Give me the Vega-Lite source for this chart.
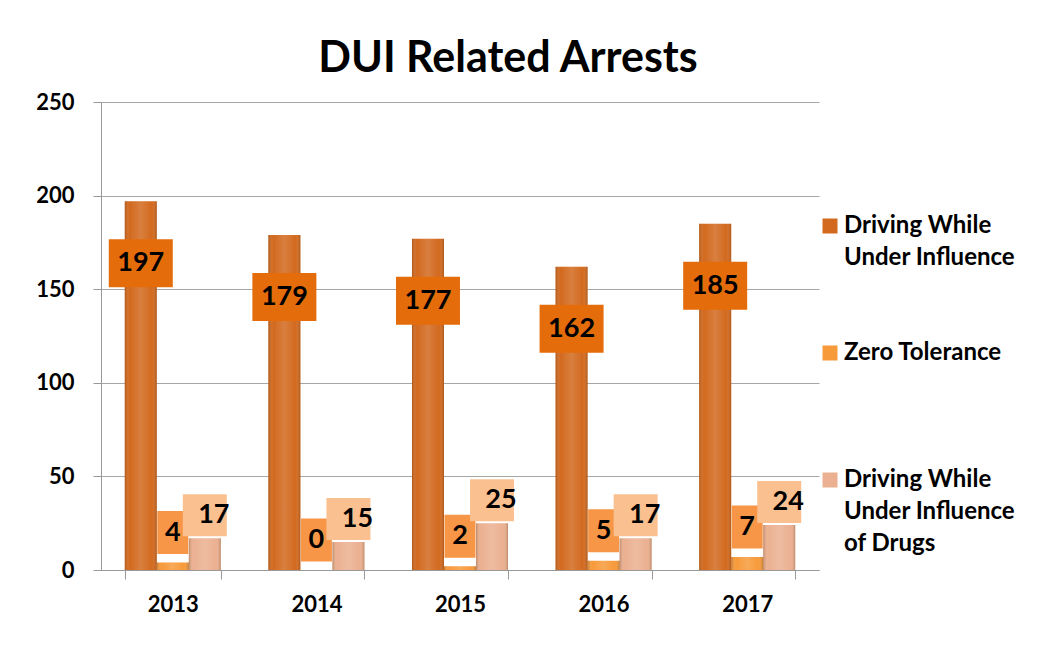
{
  "$schema": "https://vega.github.io/schema/vega-lite/v6.json",
  "width": 718,
  "height": 468,
  "autosize": "none",
  "padding": {"left": 101, "top": 102, "right": 220, "bottom": 86},
  "background": "white",
  "config": {
    "view": {"stroke": null},
    "font": "Lato"
  },
  "title": {
    "text": "DUI Related Arrests",
    "font": "Lato",
    "fontSize": 43,
    "fontWeight": "bold",
    "color": "black",
    "anchor": "middle",
    "dx": 48,
    "offset": 10
  },
  "data": {
    "values": [
      {"year": "2013", "series": "Driving While Under Influence", "value": 197},
      {"year": "2013", "series": "Zero Tolerance", "value": 4},
      {"year": "2013", "series": "Driving While Under Influence of Drugs", "value": 17},
      {"year": "2014", "series": "Driving While Under Influence", "value": 179},
      {"year": "2014", "series": "Zero Tolerance", "value": 0},
      {"year": "2014", "series": "Driving While Under Influence of Drugs", "value": 15},
      {"year": "2015", "series": "Driving While Under Influence", "value": 177},
      {"year": "2015", "series": "Zero Tolerance", "value": 2},
      {"year": "2015", "series": "Driving While Under Influence of Drugs", "value": 25},
      {"year": "2016", "series": "Driving While Under Influence", "value": 162},
      {"year": "2016", "series": "Zero Tolerance", "value": 5},
      {"year": "2016", "series": "Driving While Under Influence of Drugs", "value": 17},
      {"year": "2017", "series": "Driving While Under Influence", "value": 185},
      {"year": "2017", "series": "Zero Tolerance", "value": 7},
      {"year": "2017", "series": "Driving While Under Influence of Drugs", "value": 24}
    ]
  },
  "encoding": {
    "x": {
      "field": "year", "type": "nominal",
      "scale": {"paddingInner": 0.331, "paddingOuter": 0.1655},
      "axis": {
        "title": null, "labelAngle": 0, "labelFont": "Lato", "labelFontSize": 22,
        "labelFontWeight": "bold", "labelColor": "black", "tickBand": "extent",
        "tickSize": 9, "tickColor": "#999999", "domainColor": "#999999",
        "labelPadding": 15
      }
    },
    "xOffset": {
      "field": "series", "type": "nominal",
      "scale": {"domain": ["Driving While Under Influence", "Zero Tolerance", "Driving While Under Influence of Drugs"], "paddingInner": 0, "paddingOuter": 0}
    },
    "y": {
      "field": "value", "type": "quantitative",
      "scale": {"domain": [0, 250], "nice": false},
      "axis": {
        "title": null, "values": [0, 50, 100, 150, 200, 250], "labelFont": "Lato",
        "labelFontSize": 22, "labelFontWeight": "bold", "labelColor": "black",
        "tickSize": 8, "tickColor": "#999999", "domainColor": "#999999",
        "gridColor": "#a6a6a6", "labelPadding": 19
      }
    }
  },
  "layer": [
    {
      "mark": {"type": "bar"},
      "encoding": {
        "color": {
          "field": "series", "type": "nominal",
          "scale": {
            "domain": ["Driving While Under Influence", "Zero Tolerance", "Driving While Under Influence of Drugs"],
            "range": ["#d2691e", "#f79a3a", "#ebb091"]
          },
          "legend": {
            "title": null, "orient": "none", "legendX": 717, "legendY": 112,
            "symbolType": "square", "symbolSize": 225, "symbolStrokeWidth": 0,
            "labelFont": "Lato", "labelFontSize": 24, "labelFontWeight": "bold",
            "labelColor": "black", "labelLimit": 400, "labelOffset": 2,
            "labelExpr": "datum.value == 'Zero Tolerance' ? ['Zero Tolerance', ' '] : datum.value == 'Driving While Under Influence' ? ['Driving While', 'Under Influence'] : ['Driving While', 'Under Influence', 'of Drugs']",
            "rowPadding": 71,
            "encode": {"labels": {"update": {"lineHeight": {"value": 32}}}}
          }
        }
      }
    },
    {
      "mark": {
        "type": "bar",
        "color": {
          "gradient": "linear", "x1": 0, "x2": 1, "y1": 0, "y2": 0,
          "stops": [
            {"offset": 0, "color": "rgba(90,40,0,0.30)"},
            {"offset": 0.15, "color": "rgba(255,255,255,0.0)"},
            {"offset": 0.5, "color": "rgba(255,255,255,0.15)"},
            {"offset": 0.85, "color": "rgba(255,255,255,0.0)"},
            {"offset": 1, "color": "rgba(90,40,0,0.30)"}
          ]
        }
      },
      "encoding": {}
    },
    {
      "transform": [{"filter": "datum.series == 'Driving While Under Influence'"}],
      "mark": {"type": "tick", "thickness": 48, "size": 64, "yOffset": 62, "color": "#e46c0a", "opacity": 1},
      "encoding": {}
    },
    {
      "transform": [{"filter": "datum.series == 'Driving While Under Influence'"}],
      "mark": {"type": "text", "dy": 62, "baseline": "middle", "font": "Lato", "fontSize": 27, "fontWeight": "bold", "color": "black"},
      "encoding": {"text": {"field": "value", "type": "quantitative"}}
    },
    {
      "transform": [{"filter": "datum.series == 'Zero Tolerance'"}],
      "mark": {"type": "tick", "thickness": 43, "size": 31, "yOffset": -30, "color": "#f79646", "opacity": 1},
      "encoding": {}
    },
    {
      "transform": [{"filter": "datum.series == 'Zero Tolerance'"}],
      "mark": {"type": "text", "dy": -30, "baseline": "middle", "font": "Lato", "fontSize": 27, "fontWeight": "bold", "color": "black"},
      "encoding": {"text": {"field": "value", "type": "quantitative"}}
    },
    {
      "transform": [{"filter": "datum.series == 'Driving While Under Influence of Drugs'"}],
      "mark": {"type": "tick", "thickness": 42, "size": 44, "yOffset": -23, "xOffset": 9, "color": "#fac090", "opacity": 1},
      "encoding": {}
    },
    {
      "transform": [{"filter": "datum.series == 'Driving While Under Influence of Drugs'"}],
      "mark": {"type": "text", "dy": -23, "dx": 9, "baseline": "middle", "font": "Lato", "fontSize": 27, "fontWeight": "bold", "color": "black"},
      "encoding": {"text": {"field": "value", "type": "quantitative"}}
    }
  ]
}
